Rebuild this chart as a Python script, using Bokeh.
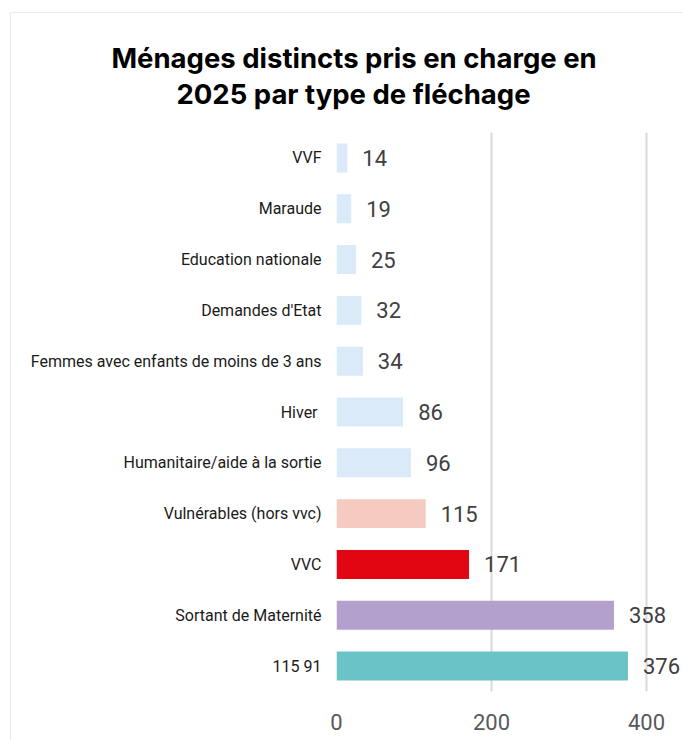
from bokeh.plotting import figure
from bokeh.models import ColumnDataSource, FactorRange, Title, Range1d, FixedTicker
from bokeh.core.properties import value
from bokeh.embed import file_html
from bokeh.resources import INLINE

categories = ["VVF", "Maraude", "Education nationale", "Demandes d'Etat",
              "Femmes avec enfants de moins de 3 ans", "Hiver ",
              "Humanitaire/aide à la sortie", "Vulnérables (hors vvc)", "VVC",
              "Sortant de Maternité", "115 91"]
values = [14, 19, 25, 32, 34, 86, 96, 115, 171, 358, 376]
bar_colors = ["#daeaf9", "#daeaf9", "#daeaf9", "#daeaf9", "#daeaf9", "#daeaf9",
              "#daeaf9", "#f5cbc1", "#e20613", "#b4a0cd", "#6ac3c6"]
x_ticks = [0, 200, 400]
title_lines = ["Ménages distincts pris en charge en", "2025 par type de fléchage"]

src = ColumnDataSource(dict(cat=categories, val=values, col=bar_colors,
                            lab=[str(v) for v in values]))

p = figure(width=673, height=728, output_backend="svg", toolbar_location=None,
           y_range=FactorRange(factors=categories[::-1], range_padding=0),
           x_range=Range1d(0, 449),
           min_border_left=325, min_border_right=0, min_border_top=119,
           min_border_bottom=50, margin=(12, 0, 0, 10),
           styles={"border-left": "1px solid #ebebeb", "border-top": "1px solid #ebebeb"})
p.outline_line_color = None
p.background_fill_color = "white"
p.border_fill_color = "white"

p.hbar(y="cat", right="val", left=0, height=0.57, fill_color="col",
       line_color=None, source=src)
p.text(x="val", y="cat", text="lab", source=src, x_offset=15,
       text_align="left", text_baseline="middle",
       text_font=value("Roboto"), text_font_size="22px", text_color="#404040")

p.xaxis.ticker = FixedTicker(ticks=x_ticks)
p.xaxis.axis_line_color = None
p.xaxis.major_tick_line_color = None
p.xaxis.minor_tick_line_color = None
p.xaxis.major_label_text_font = "Roboto"
p.xaxis.major_label_text_font_size = "22px"
p.xaxis.major_label_text_color = "#595959"
p.xaxis.major_label_standoff = 16

p.yaxis.axis_line_color = None
p.yaxis.major_tick_line_color = None
p.yaxis.major_label_text_font = "Roboto"
p.yaxis.major_label_text_font_size = "16px"
p.yaxis.major_label_text_color = "#1a1a1a"
p.yaxis.major_label_standoff = 9

p.ygrid.grid_line_color = None
p.xgrid.grid_line_color = "#d9d9d9"
p.xgrid.grid_line_width = 2

# second line first (closest to the plot), then the first line above it
for txt, off, so in [(title_lines[1], -160, 44), (title_lines[0], -225, -44)]:
    p.add_layout(Title(text=txt, align="left", offset=off, standoff=so,
                       text_font="Inter", text_font_style="bold",
                       text_font_size="27.5px", text_color="black"), "above")

open("out.html", "w").write(file_html(p, INLINE))
